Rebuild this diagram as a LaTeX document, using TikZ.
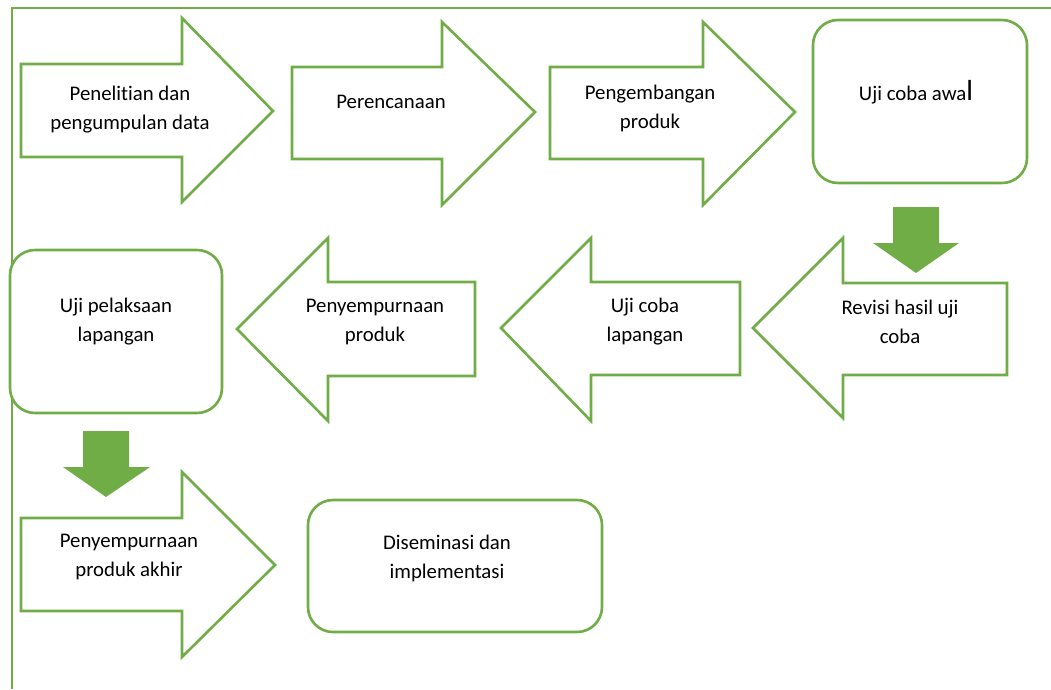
\documentclass[tikz,border=0pt]{standalone}
\usepackage{fontspec}
\setmainfont{Carlito}[Ligatures={NoCommon}]
\definecolor{ogreen}{RGB}{112,173,71}
\begin{document}
\begin{tikzpicture}[x=1pt,y=-1pt,
  shapeline/.style={draw=ogreen,line width=2.6pt,line join=miter,fill=white},
  roundbox/.style={draw=ogreen,line width=2.6pt,rounded corners=25pt,fill=white},
  downarrow/.style={fill=ogreen,draw=none},
  lbl/.style={align=center,inner sep=0pt,font=\fontsize{20.8}{29}\selectfont,text=black}]
\useasboundingbox (0,0) rectangle (1051,689);
% frame
\draw[ogreen,line width=2.6pt] (1051,8) -- (12,8) -- (12,689);
% row 1 right arrows
\draw[shapeline] (21,64) -- (182,64) -- (182,18) -- (273,111) -- (182,202) -- (182,157) -- (21,157) -- cycle;
\draw[shapeline] (292,67) -- (442,67) -- (442,22) -- (535,112) -- (442,205) -- (442,159) -- (292,159) -- cycle;
\draw[shapeline] (550,67) -- (703,67) -- (703,22) -- (795,112) -- (703,205) -- (703,159) -- (550,159) -- cycle;
\draw[roundbox] (813,20) rectangle (1027,183);
% down arrow 1
\draw[downarrow] (893,207) -- (939,207) -- (939,243) -- (959,243) -- (916,273) -- (873,243) -- (893,243) -- cycle;
% row 2 left arrows
\draw[shapeline] (1007,283) -- (843,283) -- (843,238) -- (753,328) -- (843,418) -- (843,375) -- (1007,375) -- cycle;
\draw[shapeline] (740,282) -- (591,282) -- (591,238) -- (501,328) -- (591,421) -- (591,375) -- (740,375) -- cycle;
\draw[shapeline] (475,282) -- (328,282) -- (328,238) -- (237,329) -- (328,421) -- (328,376) -- (475,376) -- cycle;
\draw[roundbox] (10,250) rectangle (222,413);
% down arrow 2
\draw[downarrow] (83,431) -- (129,431) -- (129,467) -- (150,467) -- (106,497) -- (63,467) -- (83,467) -- cycle;
% row 3
\draw[shapeline] (21,518) -- (182,518) -- (182,472) -- (275,565) -- (182,657) -- (182,611) -- (21,611) -- cycle;
\draw[roundbox] (308,500) rectangle (602,632);
% labels
\node[lbl] (t1) at (130,110) {Penelitian dan\\pengumpulan data};
\node[lbl] (t2) at (391,102) {Perencanaan};
\node[lbl] (t3) at (650,108) {Pengembangan\\produk};
\node[lbl] (t4) at (916,92) {Uji coba awa{\fontsize{29}{29}\selectfont l}};
\node[lbl] (t5) at (116,322) {Uji pelaksaan\\lapangan};
\node[lbl] (t6) at (375,322) {Penyempurnaan\\produk};
\node[lbl] (t7) at (645,322) {Uji coba\\lapangan};
\node[lbl] (t8) at (900,322) {Revisi hasil uji\\coba};
\node[lbl] (t9) at (129,557) {Penyempurnaan\\produk akhir};
\node[lbl] (t10) at (447,558) {Diseminasi dan\\implementasi};
\end{tikzpicture}
\end{document}
